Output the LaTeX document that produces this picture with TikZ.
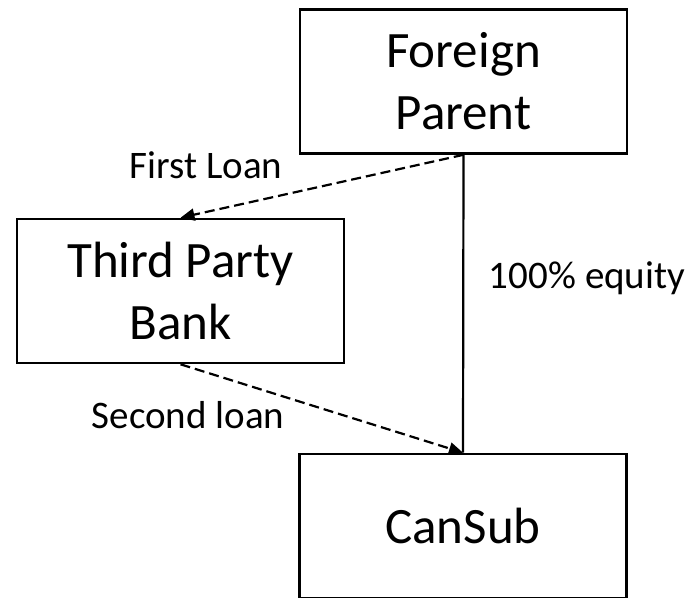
\documentclass[tikz,border=0pt]{standalone}
\usepackage{fontspec}
\setmainfont{Carlito}
\usetikzlibrary{arrows.meta}
\begin{document}
\begin{tikzpicture}[x=1pt,y=-1pt,
  entity/.style={draw,line width=2.6pt,minimum width=327pt,minimum height=144pt,
    inner sep=0pt,align=center,font=\fontsize{51}{62}\selectfont},
  lbl/.style={anchor=base,inner sep=0pt,font=\fontsize{39}{44}\selectfont},
  loan/.style={line width=2.2pt,dash pattern=on 10pt off 5pt,
    -{Triangle[length=14pt,width=12pt]}},
  equity/.style={line width=2.2pt}]
\useasboundingbox (0,0) rectangle (695,597);
\clip (0,0) rectangle (695,597);
\node[entity] (fp) at (463.5,81.5) {Foreign\\Parent};
\node[entity] (tpb) at (180.5,291) {Third Party\\Bank};
\node[entity] (cs) at (463,526) {CanSub};
\draw[equity] (fp.south) -- (cs.north);
\draw[loan] (fp.south) -- (tpb.north);
\draw[loan] (tpb.south) -- (cs.north);
\node[lbl] (l1) at (206,178) {First Loan};
\node[lbl] (l2) at (188,428) {Second loan};
\node[lbl] (l3) at (587,288) {100\% equity};
\end{tikzpicture}
\end{document}
